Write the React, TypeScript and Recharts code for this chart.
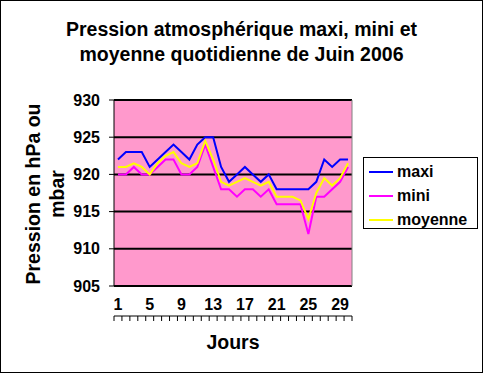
import React from 'react';
import { LineChart, Line, XAxis, YAxis, CartesianGrid, Legend, ReferenceLine } from 'recharts';

const days: number[] = Array.from({ length: 30 }, (_, i) => i + 1);
const maxi: number[] = [922, 923, 923, 923, 921, 922, 923, 924, 923, 922, 924, 925, 925, 921, 919, 920, 921, 920, 919, 920, 918, 918, 918, 918, 918, 919, 922, 921, 922, 922];
const mini: number[] = [920, 920, 921, 920, 920, 921, 922, 922, 920, 920, 921, 924, 921, 918, 918, 917, 918, 918, 917, 918, 916, 916, 916, 916, 912, 917, 917, 918, 919, 921];
const moyenne: number[] = [921, 921, 921.5, 921, 920, 921.5, 922.5, 923, 921.5, 921, 921.5, 924.5, 922, 919, 918.5, 919, 919.5, 919, 918.5, 919, 917, 917, 917, 916.5, 914, 917.5, 919.5, 918.5, 919.5, 921.5];
const xTickLabels: number[] = [1, 5, 9, 13, 17, 21, 25, 29];
const yTicks: number[] = [905, 910, 915, 920, 925, 930];
const xBoundaries: number[] = Array.from({ length: 31 }, (_, i) => i + 0.5);

const titleLines = ['Pression atmosphérique maxi, mini et', 'moyenne quotidienne de Juin 2006'];
const yTitleLines = ['Pression en hPa ou', 'mbar'];
const xTitle = 'Jours';

const data = days.map((d, i) => ({ day: d, maxi: maxi[i], mini: mini[i], moyenne: moyenne[i] }));

const FONT = '"Liberation Sans", Arial, sans-serif';

const LegendBox = (props: any) => {
  const payload = props.payload || [];
  return (
    <div
      style={{
        boxSizing: 'border-box',
        width: 115,
        height: 72,
        border: '1px solid #000',
        background: '#fff',
        paddingTop: 2,
        fontFamily: FONT,
        fontSize: 16,
        fontWeight: 'bold',
        color: '#000',
      }}
    >
      {payload.map((p: any) => (
        <div key={p.value} style={{ display: 'flex', alignItems: 'center', height: 24 }}>
          <span style={{ display: 'inline-block', marginLeft: 5, width: 24, height: 2, background: p.color }} />
          <span style={{ marginLeft: 4, lineHeight: '24px' }}>{p.value}</span>
        </div>
      ))}
    </div>
  );
};

export default function App() {
  return (
    <div style={{ position: 'absolute', left: 0, top: 0, width: 483, height: 373, background: '#fff', fontFamily: FONT }}>
      <LineChart width={483} height={373} data={data} margin={{ top: 100, left: 74, right: 131, bottom: 51 }}>
        <CartesianGrid vertical={false} horizontal={true} stroke="#000" strokeWidth={2} fill="#FF99CC" fillOpacity={1} />
        <XAxis
          xAxisId="ticks"
          type="number"
          dataKey="day"
          domain={[0.5, 30.5]}
          ticks={xBoundaries}
          interval={0}
          allowDataOverflow
          height={6}
          tickSize={5}
          tickFormatter={() => ''}
          stroke="#000"
          tickLine={{ stroke: '#000' }}
          axisLine={{ stroke: '#000', strokeWidth: 1 }}
        />
        <XAxis
          xAxisId="labels"
          type="number"
          dataKey="day"
          domain={[0.5, 30.5]}
          ticks={xTickLabels}
          interval={0}
          allowDataOverflow
          height={30}
          tickSize={6}
          tickMargin={7}
          axisLine={false}
          tickLine={false}
          tick={{ fill: '#000', fontSize: 16, fontFamily: FONT, fontWeight: 'bold' }}
        />
        <YAxis
          type="number"
          domain={[905, 930]}
          ticks={yTicks}
          interval={0}
          allowDataOverflow
          width={40}
          tickSize={5}
          tickMargin={9}
          stroke="#000"
          tick={{ fill: '#000', fontSize: 16, fontFamily: FONT, fontWeight: 'bold' }}
        />
        <ReferenceLine xAxisId="ticks" x={30.5} stroke="#808080" strokeWidth={1} />
        <Line xAxisId="ticks" type="linear" dataKey="maxi" name="maxi" stroke="#0000FF" strokeWidth={2} dot={false} isAnimationActive={false} />
        <Line xAxisId="ticks" type="linear" dataKey="mini" name="mini" stroke="#FF00FF" strokeWidth={2} dot={false} isAnimationActive={false} />
        <Line xAxisId="ticks" type="linear" dataKey="moyenne" name="moyenne" stroke="#FFFF00" strokeWidth={2} dot={false} isAnimationActive={false} />
        <Legend
          layout="vertical"
          align="center"
          verticalAlign="middle"
          content={<LegendBox />}
          wrapperStyle={{ position: 'absolute', left: 363, top: 157, width: 115, height: 72 }}
        />
      </LineChart>
      <div
        style={{
          position: 'absolute',
          left: 0,
          top: 17,
          width: 483,
          textAlign: 'center',
          fontWeight: 'bold',
          fontSize: 19.5,
          lineHeight: '25px',
          color: '#000',
        }}
      >
        {titleLines.map((t) => (
          <div key={t}>{t}</div>
        ))}
      </div>
      <div
        style={{
          position: 'absolute',
          left: -55,
          top: 170,
          width: 200,
          height: 48,
          transform: 'rotate(-90deg)',
          transformOrigin: '100px 24px',
          textAlign: 'center',
          fontWeight: 'bold',
          fontSize: 19.5,
          lineHeight: '24px',
          color: '#000',
          whiteSpace: 'nowrap',
        }}
      >
        {yTitleLines.map((t) => (
          <div key={t}>{t}</div>
        ))}
      </div>
      <div
        style={{
          position: 'absolute',
          left: 133,
          top: 330,
          width: 200,
          textAlign: 'center',
          fontWeight: 'bold',
          fontSize: 19.5,
          lineHeight: '24px',
          color: '#000',
        }}
      >
        {xTitle}
      </div>
      <div
        style={{
          position: 'absolute',
          left: 0,
          top: 0,
          width: 483,
          height: 373,
          boxSizing: 'border-box',
          border: '1px solid #000',
          pointerEvents: 'none',
        }}
      />
    </div>
  );
}
